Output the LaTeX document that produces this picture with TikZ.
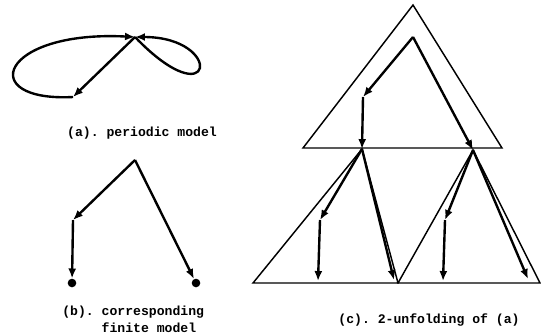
\documentclass[tikz,border=0pt]{standalone}
\usepackage{fontspec}
\setmonofont{Liberation Mono}
\usetikzlibrary{arrows.meta, positioning}
\tikzstyle{edge} = [line width=1.8pt, -{Latex[length=7.5pt, width=6pt]}]
\tikzstyle{tree} = [line width=1.1pt, line join=miter]
\tikzstyle{leaf} = [circle, fill=black, inner sep=0pt, minimum size=6.5pt]
\tikzstyle{caption} = [font=\fontsize{9.9}{12.8}\selectfont\ttfamily\bfseries, inner sep=0pt]

\begin{document}
\begin{tikzpicture}[x=0.0265cm, y=-0.0265cm]
  \useasboundingbox (0,0) rectangle (541,334);

  % (a) periodic model
  \coordinate (s1) at (135,37);
  \coordinate (s2) at (73,97);
  \draw[edge] (s1) -- (s2);
  \draw[edge] (s2) .. controls (-25,102) and (0,30) .. (s1);
  \draw[edge] (s1) .. controls (215,120) and (225,37) .. (s1);
  \node (capa) [caption] at (142,133) {(a). periodic model};

  % (b) corresponding finite model
  \coordinate (t0) at (135,160);
  \coordinate (t1) at (73,220);
  \node (d1) [leaf] at (72,283) {};
  \node (d2) [leaf] at (196,283) {};
  \draw[edge] (t0) -- (t1);
  \draw[edge] (t1) -- (d1);
  \draw[edge] (t0) -- (d2);
  \node (capb) [caption, anchor=north west, align=left] at (62,306)
    {(b). corresponding\\\phantom{(b). }finite model};

  % (c) 2-unfolding: the three triangles
  \coordinate (top)  at (413,5);
  \coordinate (ul)   at (303,148);
  \coordinate (ur)   at (502,148);
  \coordinate (u2)   at (362,149);
  \coordinate (u3)   at (473,150);
  \coordinate (bl)   at (253,283);
  \coordinate (bm)   at (398,283);
  \coordinate (br)   at (540,283);
  \draw[tree] (top) -- (ul) -- (ur) -- cycle;
  \draw[tree] (u2) -- (bl) -- (bm) -- cycle;
  \draw[tree] (u3) -- (bm) -- (br) -- cycle;

  % (c) the paths inside
  \coordinate (u0) at (413,37);
  \coordinate (u1) at (363,97);
  \coordinate (v1) at (320,220);
  \coordinate (v2) at (318,281);
  \coordinate (v3) at (394,280);
  \coordinate (w1) at (445,220);
  \coordinate (w2) at (443,281);
  \coordinate (w3) at (528,279);
  \draw[edge] (u0) -- (u1);
  \draw[edge] (u1) -- (u2);
  \draw[edge] (u0) -- (u3);
  \draw[edge] (u2) -- (v1);
  \draw[edge] (v1) -- (v2);
  \draw[edge] (u2) -- (v3);
  \draw[edge] (u3) -- (w1);
  \draw[edge] (w1) -- (w2);
  \draw[edge] (u3) -- (w3);
  \node (capc) [caption] at (429,320) {(c). 2-unfolding of (a)};
\end{tikzpicture}
\end{document}
